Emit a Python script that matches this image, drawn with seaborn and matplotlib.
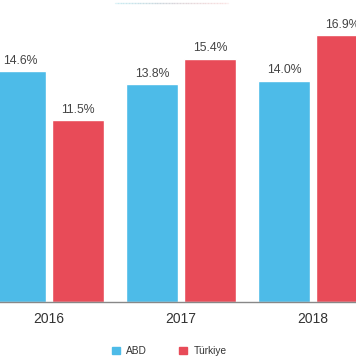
import pandas as pd
import matplotlib
matplotlib.use("Agg")
import matplotlib.pyplot as plt
import seaborn as sns
from matplotlib.patches import Patch

# Data
years = ["2016", "2017", "2018"]
abd = [14.6, 13.8, 14.0]
turkiye = [11.5, 15.4, 16.9]
series_names = ["ABD", "Türkiye"]
colors = ["#4DBBE8", "#E84B58"]

df = pd.DataFrame({
    "year": years * 2,
    "value": abd + turkiye,
    "country": [series_names[0]] * len(years) + [series_names[1]] * len(years),
})

sns.set_style("white")
plt.rcParams["font.family"] = ["Liberation Sans", "DejaVu Sans"]

fig = plt.figure(figsize=(3.56, 3.64), dpi=100)
# axes fill full width, baseline at y=302px
ax = fig.add_axes([0, 1 - 302 / 364, 1, 302 / 364])

sns.barplot(data=df, x="year", y="value", hue="country", palette=colors,
            width=0.88, gap=0.105, saturation=1, legend=False, ax=ax)

ax.set_xlim(-49 / 132, (356 - 49) / 132)
ax.set_ylim(0, 19.1)

# value labels on top of bars
for cont in ax.containers:
    ax.bar_label(cont, labels=[f"{v:.1f}%" for v in cont.datavalues],
                 padding=3, fontsize=8.8, color="#444444")

ax.set_xlabel("")
ax.set_ylabel("")
ax.set_yticks([])
ax.tick_params(axis="x", length=0, pad=7, labelsize=10, labelcolor="#333333")
for side in ["top", "right", "left"]:
    ax.spines[side].set_visible(False)
ax.spines["bottom"].set_color("#888888")
ax.spines["bottom"].set_linewidth(1)

# faint decorative line at the top
n = 40
x0, x1 = 115 / 356, 228 / 356
for i in range(n):
    a = x0 + (x1 - x0) * i / n
    b = x0 + (x1 - x0) * (i + 1) / n
    t = i / (n - 1)
    fig.add_artist(plt.Line2D([a, b], [1 - 3 / 364, 1 - 3 / 364],
                              transform=fig.transFigure, lw=1,
                              color=(0.6 + 0.35 * t, 0.85 - 0.15 * t, 0.9 - 0.2 * t),
                              alpha=0.5 * (1 - abs(t - 0.4))))

handles = [Patch(color=c, label=s) for c, s in zip(colors, series_names)]
fig.legend(handles=handles, loc="center", bbox_to_anchor=(0.475, 1 - 351 / 364),
           ncol=2, frameon=False, fontsize=7.3, handlelength=0.8, handleheight=0.8,
           handletextpad=0.6, columnspacing=3.2, labelcolor="#333333")

fig.savefig("out.png", dpi=100)
